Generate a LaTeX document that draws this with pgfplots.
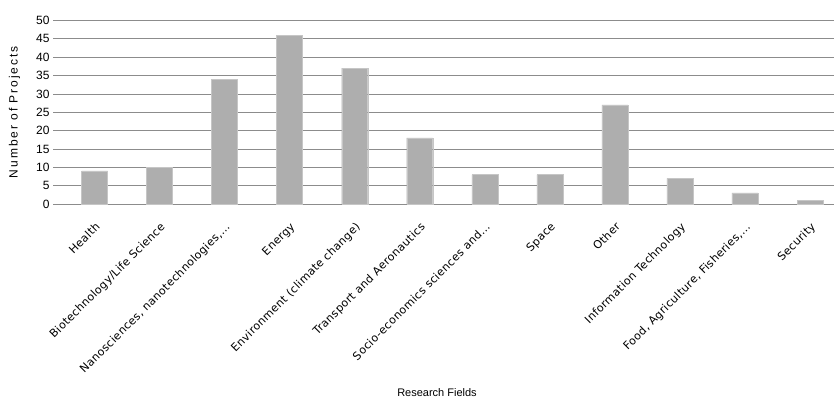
\documentclass[border=0pt]{standalone}
\usepackage{fontspec}
\setmainfont{Liberation Sans}
\newfontfamily\tickfont[LetterSpace=3]{DejaVu Sans}
\newfontfamily\ylabfont[LetterSpace=16]{Liberation Sans}
\usepackage{pgfplots}
\pgfplotsset{compat=1.18}
\definecolor{barfill}{HTML}{AEAEAE}
\definecolor{gridc}{HTML}{8C8C8C}
\begin{document}
\begin{tikzpicture}
\useasboundingbox (-58pt,-194pt) rectangle (776pt,204pt);
\begin{axis}[
 at={(0,0)}, anchor=south west,
 scale only axis, width=776pt, height=183.5pt,
 ybar, bar width=26pt,
 xmin=-0.5615, xmax=11.369, ymin=0, ymax=50,
 ytick={0,5,...,50},
 xtick=data,
 xticklabels={Health,Biotechnology/Life Science,{Nanosciences, nanotechnologies,…},Energy,Environment (climate change),Transport and Aeronautics,Socio-economics sciences and…,Space,Other,Information Technology,{Food, Agriculture, Fisheries,…},Security},
 x tick label style={font=\tickfont\fontsize{11.1}{12}\selectfont, xshift=0pt, yshift=-11pt, rotate=45, anchor=north east, inner sep=1pt},
 y tick label style={font=\fontsize{12}{14}\selectfont},
 /pgf/number format/assume math mode=true,
 axis lines*=left,
 y axis line style={draw=none},
 x axis line style={draw=gridc, line width=0.8pt},
 xtick style={draw=none},
 ytick style={draw=gridc, line width=0.8pt},
 tick align=outside, major tick length=5pt,
 ymajorgrids, grid style={draw=gridc, line width=0.8pt},
 xlabel={Research Fields}, ylabel={\ylabfont Number of Projects},
 xlabel style={at={(axis description cs:0.5,0)}, anchor=center, xshift=-9pt, yshift=-189pt, font=\fontsize{11}{13}\selectfont},
 ylabel style={at={(axis description cs:-0.056,0.5)}, anchor=center, font=\fontsize{12}{14}\selectfont},
]
\addplot[fill=barfill, draw=barfill!70!white] coordinates {(0,9) (1,10) (2,34) (3,46) (4,37) (5,18) (6,8) (7,8) (8,27) (9,7) (10,3) (11,1)};
\end{axis}
\end{tikzpicture}
\end{document}
